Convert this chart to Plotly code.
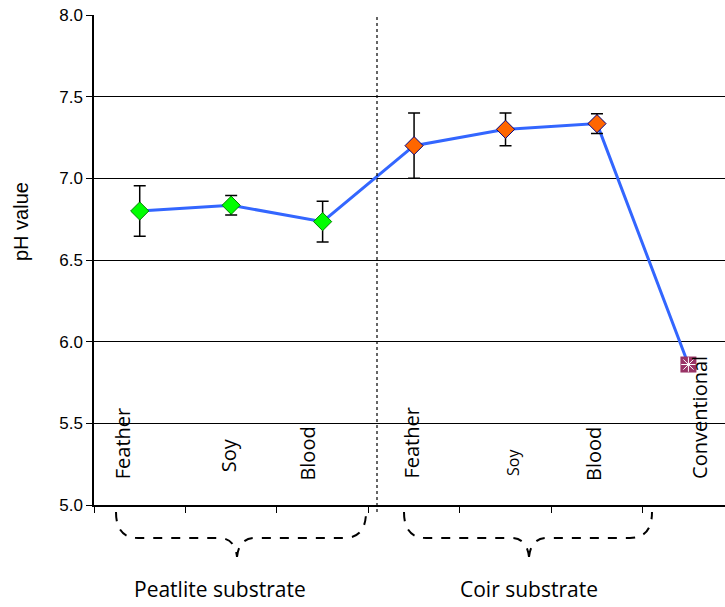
import plotly.graph_objects as go

# ---- data ----
categories = ["Feather", "Soy", "Blood", "Feather", "Soy", "Blood", "Conventional"]
ph_values = [6.80, 6.835, 6.735, 7.20, 7.30, 7.335, 5.86]
ph_errors = [0.155, 0.06, 0.125, 0.20, 0.10, 0.06, 0.0]
groups = ["Peatlite substrate", "Coir substrate"]
y_ticks = [5.0, 5.5, 6.0, 6.5, 7.0, 7.5, 8.0]

# ---- layout constants (pixels) ----
W, H = 725, 607
L, R, T, B = 94, 0, 15, 102
PW, PH = W - L - R, H - T - B
XR = [-0.5, 6.4]


def px_to_py(py):
    return (T + PH - py) / PH


def px_to_paper_x(px):
    return (px - L) / PW


idx = list(range(len(categories)))

fig = go.Figure()

# connecting line
fig.add_trace(go.Scatter(x=idx, y=ph_values, mode="lines",
                         line=dict(color="#3366FF", width=3),
                         hoverinfo="skip", showlegend=False))

# peatlite markers
fig.add_trace(go.Scatter(
    x=idx[0:3], y=ph_values[0:3], mode="markers",
    marker=dict(symbol="diamond", size=14, color="#00FF00",
                line=dict(color="#008000", width=1)),
    error_y=dict(type="data", array=ph_errors[0:3], color="black",
                 thickness=1.5, width=6),
    showlegend=False))

# coir markers
fig.add_trace(go.Scatter(
    x=idx[3:6], y=ph_values[3:6], mode="markers",
    marker=dict(symbol="diamond", size=14, color="#FF6600",
                line=dict(color="#000080", width=1)),
    error_y=dict(type="data", array=ph_errors[3:6], color="black",
                 thickness=1.5, width=6),
    showlegend=False))

# conventional marker
fig.add_trace(go.Scatter(
    x=idx[6:], y=ph_values[6:], mode="markers",
    marker=dict(symbol="square", size=16, color="#993366",
                line=dict(color="#993366", width=0)),
    showlegend=False))
fig.add_trace(go.Scatter(
    x=idx[6:], y=ph_values[6:], mode="markers",
    marker=dict(symbol="asterisk-open", size=12, color="white",
                line=dict(color="white", width=1)),
    showlegend=False))

annotations = []
# category labels inside plot (rotated)
x_off = [-17, -3, -16, -3, 7, -4, 11]
bottoms = [481, 474, 483, 481, 478, 483, 481]
sizes = [20, 20, 20, 20, 16, 20, 20]
for i, c in enumerate(categories):
    annotations.append(dict(
        x=i, y=(8.0 - (bottoms[i] - T) / PH * 3.0), xref="x", yref="y",
        text=c, textangle=-90, showarrow=False, xshift=x_off[i],
        xanchor="center", yanchor="bottom",
        font=dict(family="Open Sans", size=sizes[i], color="black")))

# group labels
group_x_px = [220, 529]
for g, gx in zip(groups, group_x_px):
    annotations.append(dict(
        x=px_to_paper_x(gx), y=px_to_py(589), xref="paper", yref="paper",
        text=g, showarrow=False, xanchor="center", yanchor="middle",
        font=dict(family="Open Sans", size=21, color="black")))

# y axis title
annotations.append(dict(
    x=px_to_paper_x(21), y=px_to_py(222), xref="paper", yref="paper",
    text="pH value", textangle=-90, showarrow=False,
    xanchor="center", yanchor="middle",
    font=dict(family="Liberation Sans, Arial", size=20, color="black")))

shapes = []
# dotted divider
shapes.append(dict(type="line", xref="paper", yref="paper",
                   x0=px_to_paper_x(377), x1=px_to_paper_x(377),
                   y0=px_to_py(512), y1=1.0,
                   line=dict(color="black", width=1.2, dash="dot")))


def brace(x0, x1, xm):
    ytop, ymid, ytip = 512, 538, 557

    def P(px, py):
        return f"{px_to_paper_x(px):.5f},{px_to_py(py):.5f}"
    path = (f"M {P(x0, ytop)} Q {P(x0, ymid)} {P(x0 + 22, ymid)} "
            f"L {P(xm - 18, ymid)} Q {P(xm - 2, ymid)} {P(xm, ytip)} "
            f"M {P(xm, ytip)} Q {P(xm + 2, ymid)} {P(xm + 18, ymid)} "
            f"L {P(x1 - 22, ymid)} Q {P(x1, ymid)} {P(x1, ytop)}")
    return dict(type="path", xref="paper", yref="paper", path=path,
                line=dict(color="black", width=2, dash="dash"))


shapes.append(brace(116, 366, 237))
shapes.append(brace(404, 652, 529))

fig.update_layout(
    width=W, height=H,
    margin=dict(l=L, r=R, t=T, b=B),
    paper_bgcolor="white", plot_bgcolor="white",
    showlegend=False,
    annotations=annotations, shapes=shapes,
    xaxis=dict(range=XR, showgrid=False, zeroline=False,
               showline=True, linecolor="black", linewidth=1.5,
               tickmode="array", tickvals=[i - 0.5 for i in idx],
               ticks="outside", ticklen=6, tickcolor="black",
               showticklabels=False),
    yaxis=dict(range=[5.0, 8.0], tickmode="array", tickvals=y_ticks,
               ticktext=[f"{v:.1f}" for v in y_ticks],
               showgrid=True, gridcolor="black", gridwidth=1,
               zeroline=False, showline=True, linecolor="black",
               linewidth=1.5, ticks="outside", ticklen=6,
               tickcolor="black",
               tickfont=dict(family="Liberation Sans, Arial", size=17,
                             color="black")),
)

fig.write_html("out.html")
